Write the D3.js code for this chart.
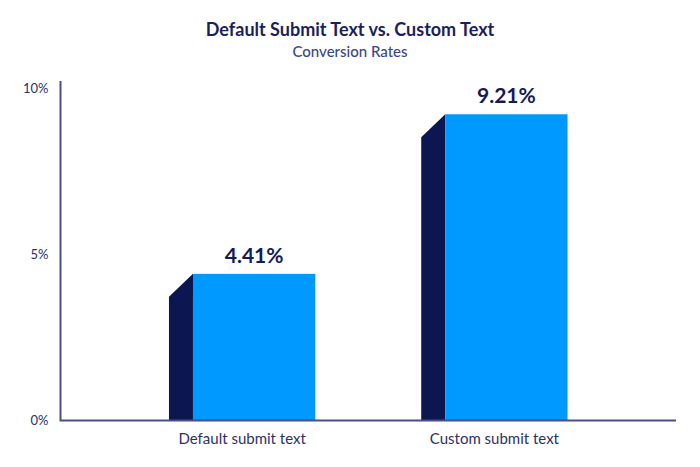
<!DOCTYPE html>
<html lang="en">
<head>
  <meta charset="UTF-8">
  <title>Default Submit Text vs. Custom Text</title>
  <script src="https://d3js.org/d3.v7.min.js"></script>
  <style>
    body { margin: 0; background: #fff; }
    text { font-family: Lato, "Noto Sans", sans-serif; }
  </style>
</head>
<body>
  <div id="chart"></div>

  <script>
    const categories = ["Default submit text", "Custom submit text"];
    const rates = [4.41, 9.21];
    const yTicks = [0, 5, 10];

    const width = 700;
    const height = 467;
    const x0 = 60.5, x1 = 676, yBase = 420.5, yTop = 88;
    const side = 24; // width of the dark side face

    const svg = d3.select("#chart")
      .append("svg")
      .attr("width", width)
      .attr("height", height);

    const xScale = d3.scaleBand()
      .domain(categories)
      .range([x0, x1])
      .paddingInner(0.42)
      .paddingOuter(0.43);

    const yScale = d3.scaleLinear()
      .domain([0, 10])
      .range([yBase, yTop]);

    // titles
    svg.append("text")
      .attr("x", 350).attr("y", 36)
      .attr("text-anchor", "middle")
      .style("font-size", "18px").style("font-weight", 700)
      .style("fill", "#1b1f5e")
      .text("Default Submit Text vs. Custom Text");

    svg.append("text")
      .attr("x", 350).attr("y", 57)
      .attr("text-anchor", "middle")
      .style("font-size", "15px").style("font-weight", 500)
      .style("fill", "#3c4789")
      .text("Conversion Rates");

    const data = categories.map((c, i) => ({ cat: c, value: rates[i] }));

    // dark side face
    svg.selectAll(".side")
      .data(data)
      .enter().append("path")
      .attr("class", "side")
      .attr("d", d => {
        const x = xScale(d.cat), y = yScale(d.value);
        return `M${x},${yBase}L${x},${y + side - 1}L${x + side},${y}L${x + side},${yBase}Z`;
      })
      .style("fill", "#0c1650");

    // front face
    svg.selectAll(".bar")
      .data(data)
      .enter().append("rect")
      .attr("class", "bar")
      .attr("x", d => xScale(d.cat) + side)
      .attr("y", d => yScale(d.value))
      .attr("width", xScale.bandwidth() - side)
      .attr("height", d => yBase - yScale(d.value))
      .style("fill", "#0099ff");

    svg.selectAll(".label")
      .data(data)
      .enter().append("text")
      .attr("class", "label")
      .attr("x", d => xScale(d.cat) + side + (xScale.bandwidth() - side) / 2)
      .attr("y", d => yScale(d.value) - 11)
      .attr("text-anchor", "middle")
      .style("font-size", "21px").style("font-weight", 700)
      .style("fill", "#141a55")
      .text(d => d.value.toFixed(2) + "%");

    // axes
    const yAxis = svg.append("g")
      .attr("transform", `translate(${x0},0)`)
      .call(d3.axisLeft(yScale).tickValues(yTicks).tickSize(0).tickPadding(12).tickFormat(d => d + "%"));
    yAxis.select(".domain").remove();
    yAxis.selectAll("text")
      .style("font-size", "13px").style("fill", "#2b2f6b");

    const xAxis = svg.append("g")
      .attr("transform", `translate(0,${yBase})`)
      .call(d3.axisBottom(xScale).tickSize(0).tickPadding(13));
    xAxis.select(".domain").remove();
    xAxis.selectAll("text")
      .style("font-size", "15px").style("fill", "#2d3266");

    svg.append("path")
      .attr("d", `M${x0},${yScale(10) - 7}L${x0},${yBase}L${x1},${yBase}`)
      .style("fill", "none")
      .style("stroke", "#4a4e82")
      .style("stroke-width", 2);
  </script>
</body>
</html>
